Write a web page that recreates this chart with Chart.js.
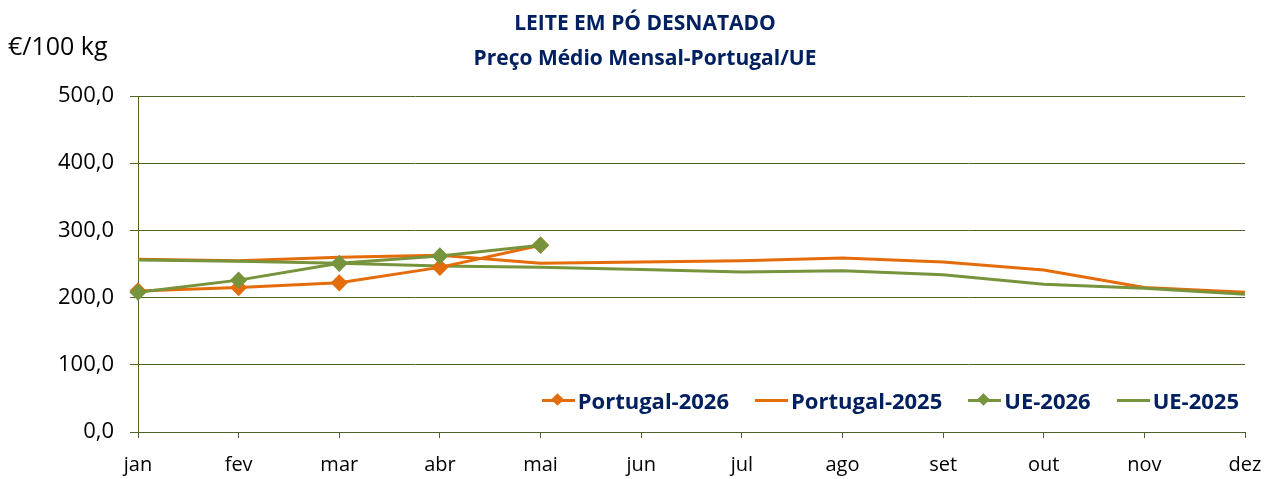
<!DOCTYPE html>
<html>
<head>
<meta charset="utf-8">
<script src="https://cdn.jsdelivr.net/npm/chart.js@4.4.1/dist/chart.umd.min.js"></script>
<style>
    body { margin: 0; background: #fff; font-family: "Open Sans", sans-serif; }
    #wrap { position: relative; width: 1267px; height: 479px; }
    #title { position: absolute; left: 0; width: 1290px; top: 5px; text-align: center; color: #002060; font-weight: bold; font-size: 21px; line-height: 35px; }
    #unit { position: absolute; left: 8px; top: 28px; font-size: 25px; color: #000; }
    #legend { position: absolute; right: 28px; top: 385px; display: flex; gap: 26px; color: #002060; font-weight: bold; font-size: 22px; }
    .item { display: flex; align-items: center; }
    .sym { position: relative; width: 33px; height: 3px; margin-right: 3px; }
    .sym i { position: absolute; left: 11px; top: -4px; width: 9px; height: 9px; transform: rotate(45deg); }
</style>
</head>
<body>
<div id="wrap">
    <canvas id="chart" width="1267" height="479"></canvas>
    <div id="title">LEITE EM PÓ DESNATADO<br>Preço Médio Mensal-Portugal/UE</div>
    <div id="unit">€/100 kg</div>
    <div id="legend"></div>
</div>
<script>
// months and series
const months = ['jan', 'fev', 'mar', 'abr', 'mai', 'jun', 'jul', 'ago', 'set', 'out', 'nov', 'dez'];
const portugal2026 = [210, 215, 222, 245, 278];
const portugal2025 = [257, 255, 260, 263, 251, 253, 255, 259, 253, 241, 215, 208];
const ue2026 = [208, 226, 251, 262, 278];
const ue2025 = [256, 254, 251, 247, 245, 242, 238, 240, 234, 220, 214, 205];
const yTicks = [0, 100, 200, 300, 400, 500];

const ORANGE = '#E46C0A';
const GREEN = '#77933C';
const GRID = '#4F6228';

const series = [
    { label: 'Portugal-2026', data: portugal2026, color: ORANGE, marker: true },
    { label: 'Portugal-2025', data: portugal2025, color: ORANGE, marker: false },
    { label: 'UE-2026', data: ue2026, color: GREEN, marker: true },
    { label: 'UE-2025', data: ue2025, color: GREEN, marker: false }
];

// html legend
const legendEl = document.getElementById('legend');
series.forEach(s => {
    const item = document.createElement('div');
    item.className = 'item';
    const sym = document.createElement('span');
    sym.className = 'sym';
    sym.style.background = s.color;
    if (s.marker) {
        const d = document.createElement('i');
        d.style.background = s.color;
        sym.appendChild(d);
    }
    item.appendChild(sym);
    item.appendChild(document.createTextNode(s.label));
    legendEl.appendChild(item);
});

// draw order: 2025 lines under the 2026 lines
const drawOrder = { 'Portugal-2026': 1, 'Portugal-2025': 3, 'UE-2026': 0, 'UE-2025': 2 };

new Chart(document.getElementById('chart'), {
    type: 'line',
    data: {
        labels: months,
        datasets: series.map(s => ({
            label: s.label,
            data: s.data,
            borderColor: s.color,
            backgroundColor: s.color,
            borderWidth: 3,
            pointStyle: 'rectRot',
            pointRadius: s.marker ? 6.5 : 0,
            pointHoverRadius: s.marker ? 6.5 : 0,
            tension: 0,
            order: drawOrder[s.label]
        }))
    },
    options: {
        responsive: false,
        animation: false,
        layout: { padding: { top: 96, right: 22, left: 0, bottom: 0 } },
        plugins: { legend: { display: false }, tooltip: { enabled: false } },
        scales: {
            x: {
                offset: false,
                grid: { display: true, drawOnChartArea: false, color: GRID, tickLength: 6 },
                border: { color: GRID, width: 1 },
                ticks: { color: '#000', font: { family: 'Open Sans', size: 20 }, padding: 15, maxRotation: 0 },
                afterFit: scale => {
                    scale.height = 47;
                    // keep the plot right edge where the reference has it
                    scale.paddingRight = 0;
                    scale.paddingLeft = 0;
                }
            },
            y: {
                min: 0,
                max: 500,
                afterBuildTicks: scale => { scale.ticks = yTicks.map(v => ({ value: v })); },
                grid: { color: GRID, lineWidth: 1, tickLength: 8 },
                border: { color: GRID, width: 1 },
                ticks: {
                    color: '#000',
                    font: { family: 'Open Sans', size: 22 },
                    padding: 16,
                    callback: v => v.toFixed(1).replace('.', ',')
                },
                afterFit: scale => { scale.width = 138; }
            }
        }
    }
});
</script>
</body>
</html>
